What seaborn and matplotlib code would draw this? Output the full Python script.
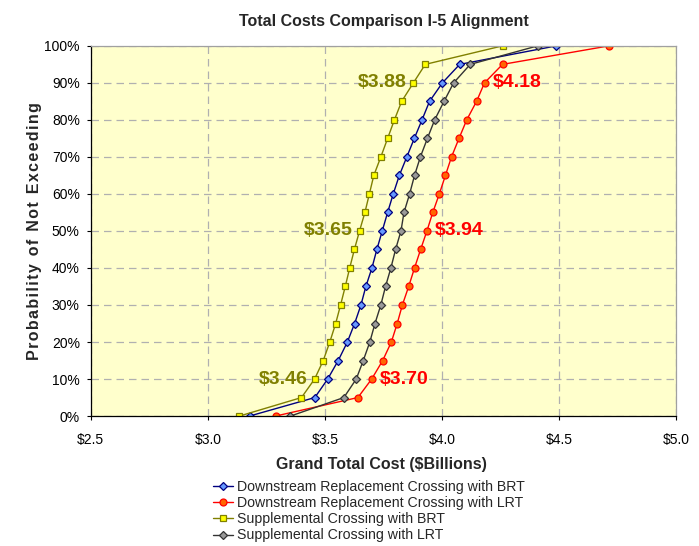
import matplotlib
matplotlib.use("Agg")
import matplotlib.pyplot as plt
import seaborn as sns
import pandas as pd
from matplotlib.ticker import FuncFormatter, MultipleLocator

prob = [0, 5, 10, 15, 20, 25, 30, 35, 40, 45, 50, 55, 60, 65, 70, 75, 80, 85, 90, 95, 100]

down_brt = [3.178, 3.457, 3.512, 3.557, 3.596, 3.627, 3.654, 3.675, 3.701, 3.722, 3.745,
            3.768, 3.792, 3.818, 3.850, 3.882, 3.915, 3.947, 4.002, 4.076, 4.489]
down_lrt = [3.289, 3.641, 3.700, 3.747, 3.784, 3.809, 3.831, 3.858, 3.883, 3.909, 3.936,
            3.961, 3.989, 4.015, 4.041, 4.073, 4.106, 4.148, 4.182, 4.259, 4.714]
supp_brt = [3.135, 3.400, 3.456, 3.493, 3.521, 3.546, 3.567, 3.587, 3.606, 3.626, 3.648,
            3.671, 3.690, 3.709, 3.739, 3.768, 3.797, 3.828, 3.878, 3.929, 4.259]
supp_lrt = [3.353, 3.581, 3.634, 3.664, 3.692, 3.714, 3.739, 3.759, 3.782, 3.802, 3.825,
            3.838, 3.862, 3.883, 3.908, 3.938, 3.969, 4.009, 4.050, 4.121, 4.409]

series_names = ["Downstream Replacement Crossing with BRT",
                "Downstream Replacement Crossing with LRT",
                "Supplemental Crossing with BRT",
                "Supplemental Crossing with LRT"]

ann_text = ["$3.88", "$3.65", "$3.46", "$4.18", "$3.94", "$3.70"]
ann_x = [3.878, 3.648, 3.456, 4.182, 3.936, 3.700]
ann_y = [90, 50, 10, 90, 50, 10]

sns.set_style("white")
plt.rcParams['font.family'] = ['Liberation Sans', 'DejaVu Sans']

fig = plt.figure(figsize=(6.99, 5.46), dpi=100)
ax = fig.add_axes([0.130, 0.238, 0.837, 0.678])
ax.set_facecolor("#FFFFCC")

styles = [
    dict(color="#000080", marker="D", markerfacecolor="#6699FF", markeredgecolor="#000080", markersize=4),
    dict(color="#FF0000", marker="o", markerfacecolor="#FF6600", markeredgecolor="#FF0000", markersize=5),
    dict(color="#808000", marker="s", markerfacecolor="#FFFF00", markeredgecolor="#808000", markersize=5),
    dict(color="#333333", marker="D", markerfacecolor="#999999", markeredgecolor="#333333", markersize=4),
]
data = [down_brt, down_lrt, supp_brt, supp_lrt]
for name, vals, st in zip(series_names, data, styles):
    df = pd.DataFrame({"cost": vals, "prob": prob})
    sns.lineplot(data=df, x="cost", y="prob", ax=ax, label=name, linewidth=1.0,
                 sort=False, estimator=None, markeredgewidth=0.9, **st)

ax.set_xlim(2.5, 5.0)
ax.set_ylim(0, 100)
ax.xaxis.set_major_locator(MultipleLocator(0.5))
ax.yaxis.set_major_locator(MultipleLocator(10))
ax.xaxis.set_major_formatter(FuncFormatter(lambda v, p: f"${v:.1f}"))
ax.yaxis.set_major_formatter(FuncFormatter(lambda v, p: f"{v:.0f}%"))
ax.grid(True, color="#B0B0B0", linestyle=(0, (6, 4)), linewidth=0.9)
ax.tick_params(axis="both", which="major", labelsize=10, length=3, width=0.8,
               direction="out", left=True, bottom=True, colors="black")
ax.tick_params(axis="x", pad=9.5)
ax.tick_params(axis="y", pad=5)
for s in ["left", "bottom"]:
    ax.spines[s].set_color("black")
    ax.spines[s].set_linewidth(0.9)
for s in ["top", "right"]:
    ax.spines[s].set_color("#A0A0A0")
    ax.spines[s].set_linewidth(0.9)

ax.set_xlabel("Grand Total Cost ($Billions)", fontsize=11.5, fontweight="bold")
ax.xaxis.set_label_coords(0.496, -0.111)
ax.set_ylabel("P r o b a b i l i t y   o f   N o t   E x c e e d i n g".replace("   ", "\u2002").replace(" ", "\u200a"),
              fontsize=11.5, fontweight="bold")
ax.yaxis.set_label_coords(-0.084, 0.5)
ax.set_title("Total Costs Comparison I-5 Alignment", fontsize=11.5, fontweight="bold", pad=14)

colors = ["#808000", "#808000", "#808000", "#FF0000", "#FF0000", "#FF0000"]
offs = [-0.03, -0.03, -0.03, 0.035, 0.035, 0.035]
for t, x, y, c, o in zip(ann_text, ann_x, ann_y, colors, offs):
    ax.text(x + o, y, t, color=c, fontsize=14, fontweight="bold",
            ha="right" if o < 0 else "left", va="center")

leg = ax.legend(loc="upper left", bbox_to_anchor=(0.208, -0.173), frameon=False,
                fontsize=10.2, handlelength=1.45, handletextpad=0.3, labelspacing=0.15,
                borderpad=0, borderaxespad=0)

fig.savefig("out.png", dpi=100)
